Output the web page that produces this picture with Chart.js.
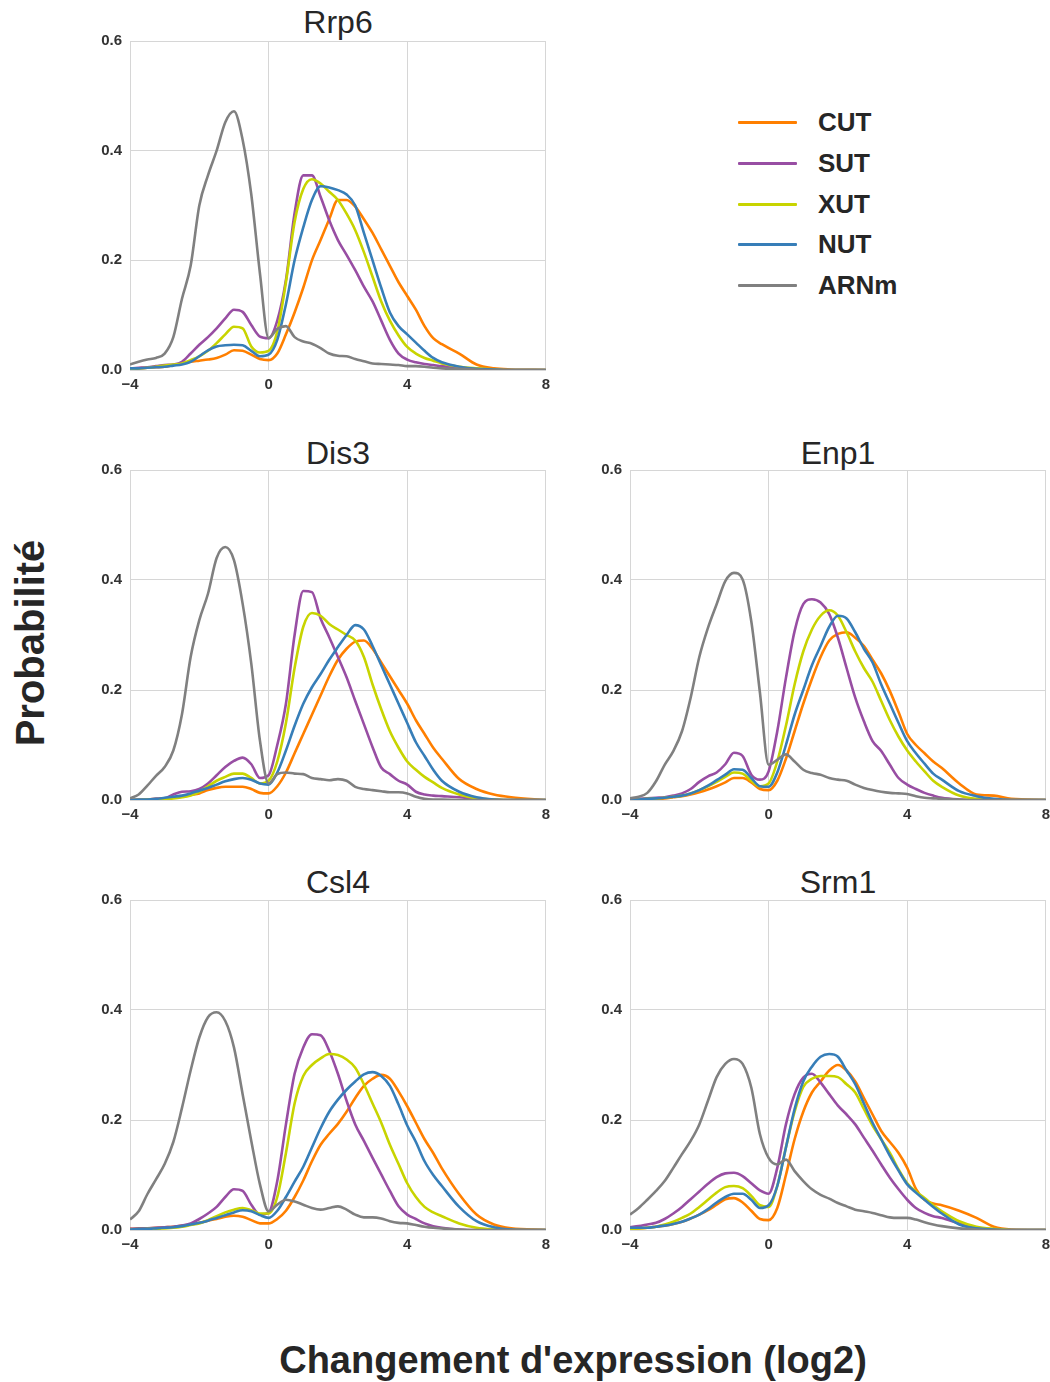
<!DOCTYPE html>
<html>
<head>
<meta charset="utf-8">
<script src="https://cdn.jsdelivr.net/npm/chart.js@4.4.1/dist/chart.umd.min.js"></script>
<style>
  body { margin: 0; background: #fff; width: 1050px; height: 1382px; overflow: hidden; position: relative; font-family: 'Liberation Sans', Arial, sans-serif; }
  canvas { position: absolute; }
  .title { position: absolute; width: 416px; text-align: center; font-size: 32px; color: #262626; line-height: 36px; }
  .leg-line { position: absolute; left: 738px; width: 59px; height: 3px; border-radius: 1px; }
  .leg-text { position: absolute; left: 818px; font-size: 26px; font-weight: bold; color: #262626; line-height: 30px; }
  .ylabel { position: absolute; left: 30px; top: 643px; transform: translate(-50%, -50%) rotate(-90deg); font-size: 40px; font-weight: bold; color: #262626; white-space: nowrap; }
  .xlabel { position: absolute; left: 573px; top: 1360px; transform: translate(-50%, -50%); font-size: 38px; font-weight: bold; color: #262626; white-space: nowrap; }
</style>
</head>
<body>

<div class="title" style="left:130px;top:4px">Rrp6</div>
<div class="title" style="left:130px;top:435px">Dis3</div>
<div class="title" style="left:630px;top:435px">Enp1</div>
<div class="title" style="left:130px;top:864px">Csl4</div>
<div class="title" style="left:630px;top:864px">Srm1</div>

<canvas id="rrp6" width="476" height="376" style="left:80px;top:24px"></canvas>
<canvas id="dis3" width="476" height="377" style="left:80px;top:453px"></canvas>
<canvas id="enp1" width="476" height="377" style="left:580px;top:453px"></canvas>
<canvas id="csl4" width="476" height="377" style="left:80px;top:883px"></canvas>
<canvas id="srm1" width="476" height="377" style="left:580px;top:883px"></canvas>

<div id="legend"></div>
<div class="ylabel">Probabilité</div>
<div class="xlabel">Changement d'expression (log2)</div>

<script>
// x grid of the density curves (log2 fold change)
var xs = [-4, -3.75, -3.5, -3.25, -3, -2.75, -2.5, -2.25, -2, -1.75, -1.5, -1.25, -1, -0.75, -0.5, -0.25,
          0, 0.25, 0.5, 0.75, 1, 1.25, 1.5, 1.75, 2, 2.25, 2.5, 2.75, 3, 3.25, 3.5, 3.75,
          4, 4.25, 4.5, 4.75, 5, 5.5, 6, 6.5, 7, 8];

var seriesNames = ['CUT', 'SUT', 'XUT', 'NUT', 'ARNm'];
var seriesColors = ['#ff7f00', '#984ea3', '#c8d400', '#377eb8', '#808080'];

var xTicks = [-4, 0, 4, 8];
var yTicks = [0, 0.2, 0.4, 0.6];

// Rrp6
var rrp6Cut = [0.002,0.003,0.004,0.005,0.006,0.009,0.012,0.015,0.017,0.019,0.022,0.028,0.036,0.035,0.028,0.02,
  0.018,0.03,0.065,0.105,0.15,0.2,0.237,0.275,0.31,0.31,0.298,0.275,0.25,0.22,0.19,0.16,
  0.135,0.11,0.08,0.058,0.047,0.03,0.01,0.003,0.001,0];
var rrp6Sut = [0.003,0.004,0.005,0.007,0.009,0.01,0.015,0.03,0.046,0.06,0.076,0.094,0.11,0.106,0.082,0.061,
  0.058,0.09,0.164,0.286,0.355,0.355,0.316,0.273,0.237,0.21,0.182,0.152,0.125,0.09,0.055,0.03,
  0.019,0.014,0.011,0.009,0.007,0.004,0.002,0.001,0,0];
var rrp6Xut = [0.002,0.003,0.004,0.006,0.008,0.01,0.012,0.018,0.025,0.035,0.049,0.065,0.079,0.076,0.043,0.032,
  0.035,0.07,0.16,0.27,0.33,0.348,0.34,0.325,0.31,0.285,0.255,0.215,0.17,0.125,0.09,0.063,
  0.042,0.03,0.022,0.017,0.012,0.006,0.003,0.001,0,0];
var rrp6Nut = [0.003,0.003,0.004,0.005,0.006,0.008,0.01,0.015,0.025,0.036,0.043,0.045,0.046,0.045,0.035,0.025,
  0.028,0.055,0.12,0.2,0.26,0.31,0.335,0.333,0.328,0.32,0.3,0.25,0.2,0.15,0.105,0.08,
  0.065,0.05,0.035,0.022,0.014,0.006,0.002,0.001,0,0];
var rrp6Arnm = [0.01,0.015,0.019,0.022,0.03,0.06,0.13,0.19,0.3,0.355,0.4,0.452,0.472,0.42,0.32,0.176,
  0.058,0.075,0.08,0.06,0.052,0.048,0.04,0.03,0.026,0.025,0.02,0.016,0.012,0.011,0.01,0.009,
  0.007,0.007,0.006,0.004,0.003,0.002,0.001,0,0,0];

// Dis3
var dis3Cut = [0,0.001,0.001,0.002,0.003,0.004,0.006,0.009,0.012,0.018,0.022,0.024,0.024,0.024,0.02,0.013,
  0.012,0.025,0.05,0.085,0.12,0.155,0.19,0.225,0.255,0.275,0.288,0.29,0.275,0.25,0.225,0.2,
  0.175,0.145,0.12,0.095,0.075,0.038,0.02,0.01,0.005,0];
var dis3Sut = [0,0,0.001,0.002,0.003,0.01,0.015,0.016,0.02,0.03,0.045,0.06,0.071,0.077,0.065,0.04,
  0.045,0.1,0.175,0.3,0.38,0.378,0.33,0.296,0.26,0.223,0.18,0.138,0.096,0.059,0.047,0.035,
  0.028,0.015,0.01,0.008,0.007,0.005,0.002,0.001,0,0];
var dis3Xut = [0,0,0.001,0.001,0.002,0.003,0.005,0.008,0.015,0.025,0.035,0.042,0.048,0.048,0.04,0.03,
  0.035,0.07,0.14,0.24,0.315,0.34,0.335,0.32,0.31,0.3,0.29,0.26,0.21,0.165,0.125,0.095,
  0.07,0.055,0.042,0.032,0.022,0.01,0.003,0.001,0,0];
var dis3Nut = [0,0.001,0.001,0.002,0.004,0.006,0.008,0.012,0.017,0.022,0.028,0.034,0.038,0.04,0.037,0.03,
  0.028,0.05,0.09,0.135,0.175,0.205,0.229,0.255,0.278,0.3,0.318,0.31,0.28,0.245,0.21,0.175,
  0.14,0.105,0.08,0.055,0.035,0.015,0.005,0.001,0,0];
var dis3Arnm = [0.003,0.01,0.026,0.044,0.06,0.09,0.156,0.26,0.327,0.375,0.44,0.46,0.436,0.357,0.248,0.108,
  0.03,0.047,0.05,0.048,0.047,0.04,0.038,0.036,0.038,0.035,0.024,0.02,0.018,0.016,0.014,0.014,
  0.012,0.006,0.002,0.001,0.001,0,0,0,0,0];

// Enp1
var enp1Cut = [0.001,0.001,0.002,0.002,0.003,0.005,0.007,0.01,0.014,0.019,0.025,0.032,0.04,0.04,0.032,0.02,
  0.018,0.035,0.075,0.125,0.175,0.22,0.26,0.29,0.302,0.305,0.295,0.28,0.255,0.23,0.198,0.16,
  0.12,0.1,0.085,0.07,0.058,0.03,0.01,0.008,0.002,0];
var enp1Sut = [0.001,0.002,0.003,0.004,0.005,0.008,0.012,0.02,0.033,0.043,0.05,0.065,0.086,0.08,0.046,0.037,
  0.052,0.125,0.222,0.307,0.356,0.365,0.359,0.338,0.295,0.24,0.186,0.143,0.107,0.089,0.064,0.04,
  0.028,0.02,0.013,0.008,0.004,0.001,0,0,0,0];
var enp1Xut = [0.001,0.001,0.002,0.003,0.004,0.006,0.008,0.012,0.018,0.025,0.033,0.042,0.05,0.048,0.035,0.025,
  0.03,0.07,0.135,0.21,0.27,0.31,0.335,0.345,0.335,0.305,0.27,0.24,0.215,0.18,0.145,0.115,
  0.09,0.07,0.052,0.035,0.024,0.008,0.002,0.001,0,0];
var enp1Nut = [0.001,0.001,0.002,0.003,0.004,0.006,0.008,0.012,0.018,0.026,0.036,0.046,0.056,0.055,0.04,0.025,
  0.024,0.05,0.1,0.155,0.2,0.245,0.28,0.315,0.335,0.33,0.305,0.275,0.25,0.21,0.175,0.14,
  0.107,0.085,0.066,0.048,0.037,0.016,0.007,0.002,0,0];
var enp1Arnm = [0.003,0.006,0.013,0.034,0.064,0.089,0.125,0.186,0.26,0.313,0.356,0.398,0.413,0.401,0.325,0.195,
  0.064,0.073,0.083,0.07,0.055,0.049,0.046,0.04,0.037,0.035,0.028,0.022,0.018,0.015,0.013,0.012,
  0.011,0.007,0.004,0.003,0.002,0.001,0,0,0,0];

// Csl4
var csl4Cut = [0.002,0.003,0.003,0.004,0.005,0.006,0.008,0.01,0.013,0.017,0.02,0.024,0.026,0.024,0.018,0.012,
  0.012,0.02,0.035,0.06,0.09,0.125,0.155,0.175,0.193,0.215,0.24,0.262,0.275,0.282,0.275,0.252,
  0.225,0.195,0.165,0.14,0.112,0.065,0.028,0.01,0.003,0];
var csl4Sut = [0.002,0.002,0.003,0.004,0.005,0.006,0.008,0.012,0.02,0.03,0.042,0.06,0.074,0.071,0.046,0.028,
  0.031,0.089,0.192,0.284,0.332,0.356,0.354,0.326,0.284,0.235,0.192,0.162,0.131,0.101,0.071,0.043,
  0.028,0.02,0.012,0.007,0.004,0.001,0,0,0,0];
var csl4Xut = [0.001,0.001,0.002,0.002,0.003,0.004,0.006,0.009,0.012,0.018,0.025,0.032,0.037,0.04,0.036,0.03,
  0.03,0.06,0.14,0.23,0.28,0.3,0.312,0.32,0.318,0.31,0.295,0.265,0.23,0.195,0.155,0.12,
  0.085,0.06,0.042,0.032,0.025,0.012,0.004,0.001,0,0];
var csl4Nut = [0.001,0.002,0.002,0.003,0.004,0.005,0.007,0.01,0.013,0.017,0.022,0.027,0.032,0.036,0.034,0.027,
  0.022,0.035,0.06,0.088,0.115,0.15,0.185,0.215,0.237,0.255,0.27,0.283,0.287,0.28,0.262,0.228,
  0.19,0.16,0.125,0.1,0.08,0.042,0.016,0.005,0.001,0];
var csl4Arnm = [0.019,0.034,0.065,0.092,0.12,0.16,0.222,0.29,0.35,0.387,0.396,0.38,0.332,0.247,0.162,0.083,
  0.034,0.046,0.055,0.052,0.046,0.04,0.037,0.04,0.043,0.037,0.028,0.023,0.023,0.021,0.016,0.013,
  0.012,0.009,0.006,0.004,0.003,0.001,0,0,0,0];

// Srm1
var srm1Cut = [0.002,0.003,0.004,0.006,0.008,0.011,0.015,0.021,0.028,0.036,0.046,0.056,0.058,0.05,0.035,0.02,
  0.018,0.04,0.1,0.165,0.215,0.25,0.27,0.29,0.3,0.29,0.27,0.24,0.21,0.18,0.16,0.14,
  0.113,0.075,0.055,0.048,0.045,0.035,0.022,0.006,0.001,0];
var srm1Sut = [0.005,0.007,0.01,0.013,0.02,0.03,0.042,0.056,0.07,0.084,0.096,0.103,0.104,0.098,0.085,0.072,
  0.066,0.113,0.192,0.247,0.277,0.284,0.268,0.247,0.226,0.21,0.192,0.168,0.144,0.119,0.095,0.074,
  0.055,0.04,0.031,0.025,0.022,0.012,0.004,0.001,0,0];
var srm1Xut = [0.002,0.003,0.004,0.006,0.01,0.015,0.022,0.03,0.042,0.055,0.068,0.078,0.08,0.076,0.062,0.045,
  0.042,0.08,0.15,0.215,0.26,0.275,0.28,0.28,0.278,0.265,0.25,0.22,0.19,0.165,0.14,0.11,
  0.085,0.07,0.058,0.045,0.034,0.016,0.006,0.002,0,0];
var srm1Nut = [0.004,0.004,0.004,0.006,0.008,0.011,0.015,0.021,0.028,0.038,0.05,0.06,0.066,0.066,0.055,0.04,
  0.045,0.08,0.15,0.22,0.27,0.297,0.315,0.32,0.315,0.29,0.265,0.23,0.195,0.165,0.135,0.108,
  0.083,0.068,0.055,0.042,0.03,0.01,0.003,0.001,0,0];
var srm1Arnm = [0.028,0.04,0.055,0.071,0.089,0.113,0.138,0.162,0.192,0.235,0.278,0.302,0.311,0.302,0.259,0.174,
  0.131,0.119,0.128,0.107,0.089,0.074,0.064,0.057,0.049,0.043,0.037,0.034,0.031,0.027,0.023,0.022,
  0.022,0.019,0.014,0.01,0.007,0.003,0.001,0,0,0];

var fontFamily = "'Liberation Sans', Arial, sans-serif";
var tickFont = { family: fontFamily, size: 15, weight: 'bold' };
var gridColor = '#d6d6d6';

function minusLabel(v) {
    return v < 0 ? '\u2212' + Math.abs(v) : String(v);
}

function makePanel(id, series) {
    var datasets = series.map(function(values, i) {
        return {
            label: seriesNames[i],
            data: xs.map(function(x, j) { return { x: x, y: values[j] }; }),
            borderColor: seriesColors[i],
            backgroundColor: seriesColors[i],
            order: series.length - i
        };
    });
    new Chart(document.getElementById(id), {
        type: 'line',
        data: { datasets: datasets },
        options: {
            responsive: false,
            animation: false,
            layout: { padding: { top: 5, right: 10, left: 0, bottom: 0 } },
            plugins: { legend: { display: false }, tooltip: { enabled: false } },
            elements: {
                point: { radius: 0 },
                line: { borderWidth: 2.6, cubicInterpolationMode: 'monotone' }
            },
            scales: {
                x: {
                    type: 'linear', min: -4, max: 8,
                    afterBuildTicks: function(s) { s.ticks = xTicks.map(function(v) { return { value: v }; }); },
                    afterFit: function(s) { s.height = 30; },
                    ticks: { callback: minusLabel, font: tickFont, color: '#333', padding: 6, maxRotation: 0 },
                    grid: { color: gridColor, drawTicks: false },
                    border: { color: gridColor }
                },
                y: {
                    min: 0, max: 0.6,
                    afterBuildTicks: function(s) { s.ticks = yTicks.map(function(v) { return { value: v }; }); },
                    afterFit: function(s) { s.width = 50; },
                    ticks: { callback: function(v) { return v.toFixed(1); }, font: tickFont, color: '#333', padding: 8 },
                    grid: { color: gridColor, drawTicks: false },
                    border: { color: gridColor }
                }
            }
        }
    });
}

makePanel('rrp6', [rrp6Cut, rrp6Sut, rrp6Xut, rrp6Nut, rrp6Arnm]);
makePanel('dis3', [dis3Cut, dis3Sut, dis3Xut, dis3Nut, dis3Arnm]);
makePanel('enp1', [enp1Cut, enp1Sut, enp1Xut, enp1Nut, enp1Arnm]);
makePanel('csl4', [csl4Cut, csl4Sut, csl4Xut, csl4Nut, csl4Arnm]);
makePanel('srm1', [srm1Cut, srm1Sut, srm1Xut, srm1Nut, srm1Arnm]);

// legend in the empty top-right cell
var legend = document.getElementById('legend');
var legendY = [122, 163, 204, 244, 285];
seriesNames.forEach(function(name, i) {
    var line = document.createElement('div');
    line.className = 'leg-line';
    line.style.top = (legendY[i] - 1.5) + 'px';
    line.style.background = seriesColors[i];
    legend.appendChild(line);
    var txt = document.createElement('div');
    txt.className = 'leg-text';
    txt.style.top = (legendY[i] - 15) + 'px';
    txt.textContent = name;
    legend.appendChild(txt);
});
</script>
</body>
</html>
